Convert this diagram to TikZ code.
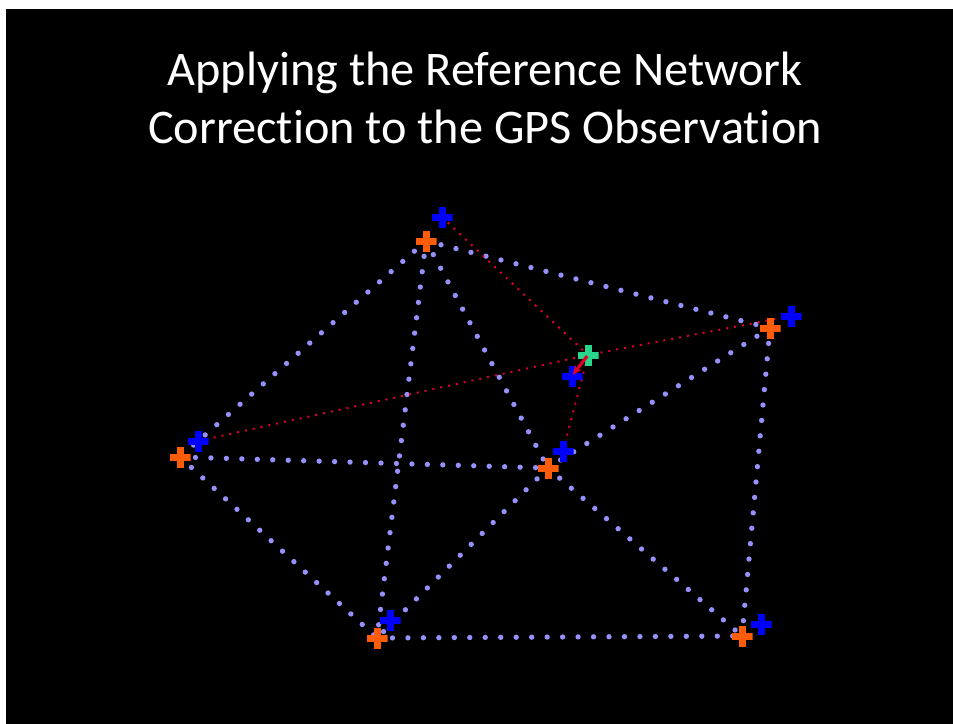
\documentclass[tikz,border=0pt]{standalone}
\usepackage{fontspec}
\setmainfont[Ligatures=NoCommon]{Carlito}
\usetikzlibrary{backgrounds,arrows.meta}
\definecolor{netcol}{RGB}{150,145,250}
\definecolor{bluecr}{RGB}{0,0,255}
\definecolor{orangecr}{RGB}{255,92,10}
\definecolor{greencr}{RGB}{40,215,140}
\definecolor{redln}{RGB}{225,0,40}
\tikzset{
  plus/.style={minimum size=15.75pt, inner sep=0pt, outer sep=0pt,
    path picture={
      \fill[#1] ([xshift=-2.625pt]path picture bounding box.south) rectangle ([xshift=2.625pt]path picture bounding box.north);
      \fill[#1] ([yshift=-2.625pt]path picture bounding box.west) rectangle ([yshift=2.625pt]path picture bounding box.east);}},
  netline/.style={draw=netcol, line width=4pt, line cap=round, dash pattern=on 0pt off 11.6pt},
  redline/.style={draw=redln, line width=1.5pt, dash pattern=on 1.5pt off 4.5pt},
  titletext/.style={text=white, font=\fontsize{36.2pt}{44pt}\selectfont, anchor=base, inner sep=0pt}
}
\begin{document}
\begin{tikzpicture}[x=0.75pt,y=-0.75pt]
\useasboundingbox (0,0) rectangle (953,724);

\node[titletext] (title1) at (485,85) {Applying the Reference Network};
\node[titletext] (title2) at (485,143) {Correction to the GPS Observation};

% orange (true) stations
\node[plus=orangecr] (To) at (426,241) {};
\node[plus=orangecr] (Ro) at (770,328) {};
\node[plus=orangecr] (Lo) at (180,457) {};
\node[plus=orangecr] (Co) at (548,468) {};
\node[plus=orangecr] (BLo) at (377,638) {};
\node[plus=orangecr] (BRo) at (742,636) {};
% blue (observed) stations
\node[plus=bluecr] (Tb) at (442,217) {};
\node[plus=bluecr] (Rb) at (791,316) {};
\node[plus=bluecr] (Lb) at (198,441) {};
\node[plus=bluecr] (Cb) at (563,451) {};
\node[plus=bluecr] (BLb) at (390,620) {};
\node[plus=bluecr] (BRb) at (761,624) {};
% rover
\node[plus=bluecr] (U) at (572,376) {};
\node[plus=greencr] (G) at (588,355) {};

\begin{pgfonlayer}{background}
  \fill[white] (0,0) rectangle (953,724);
  \fill[black] (6,9) rectangle (953,724);
  \draw[netline] (To.center) -- (Lo.center);
  \draw[netline] (To.center) -- (Ro.center);
  \draw[netline] (To.center) -- (BLo.center);
  \draw[netline] (To.center) -- (Co.center);
  \draw[netline] (Ro.center) -- (Co.center);
  \draw[netline] (Ro.center) -- (BRo.center);
  \draw[netline] (Lo.center) -- (Co.center);
  \draw[netline] (Lo.center) -- (BLo.center);
  \draw[netline] (Co.center) -- (BLo.center);
  \draw[netline] (Co.center) -- (BRo.center);
  \draw[netline] (BLo.center) -- (BRo.center);
  \draw[redline] (Tb.center) -- (G.center);
  \draw[redline] (Rb.center) -- (G.center);
  \draw[redline] (Lb.center) -- (G.center);
  \draw[redline] (Cb.center) -- (G.center);
\end{pgfonlayer}

\draw[draw=redln, line width=2.4pt, -{Stealth[length=7pt,width=6pt]}, shorten <=1pt, shorten >=1pt] (G.center) -- (U.center);
\end{tikzpicture}
\end{document}
